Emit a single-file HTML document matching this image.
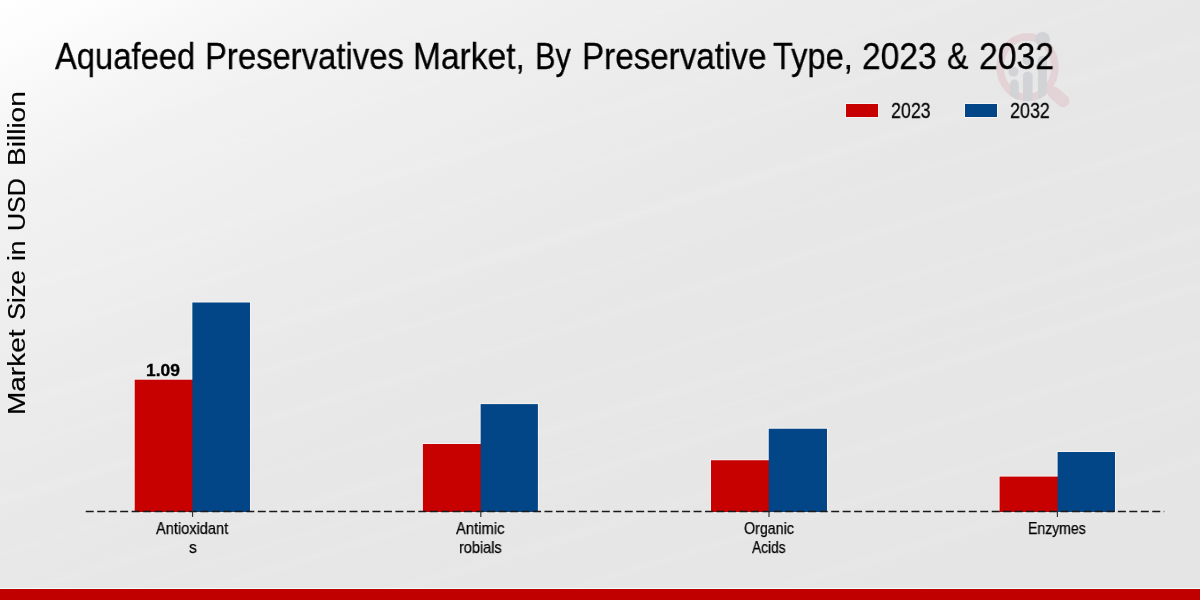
<!DOCTYPE html>
<html lang="en">
<head>
<meta charset="utf-8">
<title>Aquafeed Preservatives Market, By Preservative Type, 2023 &amp; 2032</title>
<style>
  html, body { margin: 0; padding: 0; }
  body {
    width: 1200px; height: 600px; overflow: hidden;
    font-family: "Liberation Sans", sans-serif;
    color: #000;
    background: #e8e8e8;
  }
  #chart {
    position: relative; width: 1200px; height: 600px; overflow: hidden;
    background:
      linear-gradient(163deg, rgba(255,255,255,0) 140px, rgba(255,255,255,0.05) 150px, rgba(255,255,255,0) 160px, rgba(255,255,255,0) 199px, rgba(255,255,255,0.05) 205px, rgba(255,255,255,0) 211px, rgba(255,255,255,0) 273px, rgba(255,255,255,0.07) 282px, rgba(255,255,255,0) 291px, rgba(255,255,255,0) 323px, rgba(255,255,255,0.06) 329px, rgba(255,255,255,0) 335px, rgba(255,255,255,0) 381px, rgba(255,255,255,0.09) 391px, rgba(255,255,255,0) 401px, rgba(255,255,255,0) 427px, rgba(255,255,255,0.06) 432px, rgba(255,255,255,0) 437px, rgba(255,255,255,0) 471px, rgba(255,255,255,0.08) 479px, rgba(255,255,255,0) 487px, rgba(255,255,255,0) 524px, rgba(255,255,255,0.05) 530px, rgba(255,255,255,0) 536px, rgba(255,255,255,0) 563px, rgba(255,255,255,0.08) 572px, rgba(255,255,255,0) 581px, rgba(255,255,255,0) 596px, rgba(255,255,255,0.05) 600px, rgba(255,255,255,0) 604px, rgba(255,255,255,0) 617px, rgba(255,255,255,0.08) 624px, rgba(255,255,255,0) 631px, rgba(255,255,255,0) 672px, rgba(255,255,255,0.06) 680px, rgba(255,255,255,0) 688px, rgba(255,255,255,0) 724px, rgba(255,255,255,0.06) 730px, rgba(255,255,255,0) 736px, rgba(255,255,255,0) 781px, rgba(255,255,255,0.05) 790px, rgba(255,255,255,0) 799px),
      linear-gradient(to bottom right, #ffffff 0%, #fbfbfb 5.7%, #f7f7f7 9.8%, #f1f1f1 17.7%, #eeeeee 27%, #ebebeb 34.3%, #e9e9e9 41.7%, #e7e7e7 50%, #e6e6e6 73%, #e5e5e5 100%);
  }
  .t { position: absolute; white-space: nowrap; line-height: 1; transform-origin: 0 0; will-change: transform; }
  .tw { font-size: 36.9px; -webkit-text-stroke: 0.3px #000; }
  .yl { font-size: 23.5px; -webkit-text-stroke: 0.2px #000; }
  .sw { box-shadow: 0 0 0 1px rgba(255,250,248,0.6); }
  .red { background: #c70000; }
  .blue { background: #024687; }
  #plot { position: absolute; left: 0; top: 290px; }
  .rf { fill: #c70000; }
  .bf { fill: #024687; }
  .xl { font-size: 16.1px; -webkit-text-stroke: 0.25px #000; }
  .val { font-size: 15.2px; font-weight: bold; -webkit-text-stroke: 0.3px #000; }
  .lg { font-size: 20.6px; -webkit-text-stroke: 0.25px #000; }
  .sw { position: absolute; top: 104px; width: 32px; height: 13px; }
  #footer { position: absolute; left: 0; top: 589px; width: 1200px; height: 11px; background: #c00000; }
  #footline { position: absolute; left: 0; top: 588px; width: 1200px; height: 1px; background: #f2fdfd; }
</style>
</head>
<body>
<div id="chart">
  <svg id="wm" width="100" height="90" viewBox="0 0 100 90" style="position:absolute;left:985px;top:25px">
    <defs><clipPath id="wmclip"><ellipse cx="42.5" cy="42.2" rx="31.2" ry="34.1"/><rect x="0" y="0" width="100" height="42"/></clipPath></defs>
    <g fill="none" stroke="#e4d3d6" stroke-linecap="round">
      <ellipse cx="42.5" cy="42.2" rx="27.4" ry="30.3" stroke-width="7.6"/>
      <line x1="68.8" y1="67.8" x2="78.2" y2="76" stroke-width="12.5"/>
    </g>
    <g fill="#d2d3d6" stroke="none" clip-path="url(#wmclip)">
      <path d="M25 85 V59 a4.4 4.4 0 0 1 8.8 0 V85 Z"/>
      <circle cx="28.4" cy="46.8" r="5"/>
      <path d="M38 85 V51.2 a4.8 4.8 0 0 1 9.6 0 V85 Z"/>
      <circle cx="42.5" cy="35" r="5"/>
      <path d="M52.9 85 V35.3 a4.5 4.5 0 0 1 9 0 V85 Z"/>
      <circle cx="57.6" cy="14.3" r="7.4"/>
    </g>
  </svg>

  <div class="t tw" style="left:54.7px;top:38.8px;transform:scaleX(0.887)">Aquafeed</div>
  <div class="t tw" style="left:204.9px;top:38.8px;transform:scaleX(0.890)">Preservatives</div>
  <div class="t tw" style="left:413.3px;top:38.8px;transform:scaleX(0.909)">Market,</div>
  <div class="t tw" style="left:534.5px;top:38.8px;transform:scaleX(0.835)">By</div>
  <div class="t tw" style="left:581.7px;top:38.8px;transform:scaleX(0.900)">Preservative</div>
  <div class="t tw" style="left:772.7px;top:38.8px;transform:scaleX(0.884)">Type,</div>
  <div class="t tw" style="left:862.2px;top:38.8px;transform:scaleX(0.910)">2023</div>
  <div class="t tw" style="left:947.1px;top:38.8px;transform:scaleX(0.870)">&amp;</div>
  <div class="t tw" style="left:978.8px;top:38.8px;transform:scaleX(0.915)">2032</div>
  <div class="t yl" style="left:6px;top:415.1px;transform:rotate(-90deg) scaleX(1.190)">Market</div>
  <div class="t yl" style="left:6px;top:319.7px;transform:rotate(-90deg) scaleX(1.091)">Size</div>
  <div class="t yl" style="left:6px;top:260.6px;transform:rotate(-90deg) scaleX(1.120)">in</div>
  <div class="t yl" style="left:6px;top:231.1px;transform:rotate(-90deg) scaleX(1.064)">USD</div>
  <div class="t yl" style="left:6px;top:165.8px;transform:rotate(-90deg) scaleX(1.193)">Billion</div>

  <div class="sw red" style="left:845.7px"></div>
  <div class="sw blue" style="left:964.8px"></div>
  <div class="t lg" style="left:890.8px;top:100.0px;transform:scale(0.866,1.04)">2023</div>
  <div class="t lg" style="left:1009.8px;top:100.0px;transform:scale(0.870,1.04)">2032</div>

  <svg id="plot" width="1200" height="260" viewBox="0 290 1200 260"><g fill="rgba(255,250,248,0.6)"><rect x="133.70" y="378.70" width="59.65" height="133.30"/><rect x="191.35" y="301.50" width="59.65" height="210.50"/><rect x="421.90" y="443.00" width="59.75" height="69.00"/><rect x="479.65" y="403.10" width="59.25" height="108.90"/><rect x="710.00" y="459.25" width="59.75" height="52.75"/><rect x="767.75" y="427.75" width="60.25" height="84.25"/><rect x="998.60" y="475.60" width="60.00" height="36.40"/><rect x="1056.60" y="451.00" width="59.40" height="61.00"/></g><rect class="rf" x="134.70" y="379.70" width="58.35" height="132.30"/><rect class="bf" x="192.35" y="302.50" width="57.65" height="209.50"/><rect class="rf" x="422.90" y="444.00" width="58.45" height="68.00"/><rect class="bf" x="480.65" y="404.10" width="57.25" height="107.90"/><rect class="rf" x="711.00" y="460.25" width="58.45" height="51.75"/><rect class="bf" x="768.75" y="428.75" width="58.25" height="83.25"/><rect class="rf" x="999.60" y="476.60" width="58.70" height="35.40"/><rect class="bf" x="1057.60" y="452.00" width="57.40" height="60.00"/><line x1="85.75" y1="511.5" x2="1164.3" y2="511.5" stroke="#1a1a1a" stroke-width="1.35" stroke-dasharray="8.006 3.462"/><line x1="192.55" y1="511.5" x2="192.55" y2="516.9" stroke="#383838" stroke-width="1.2"/><line x1="480.8" y1="511.5" x2="480.8" y2="516.9" stroke="#383838" stroke-width="1.2"/><line x1="769.0" y1="511.5" x2="769.0" y2="516.9" stroke="#383838" stroke-width="1.2"/><line x1="1057.4" y1="511.5" x2="1057.4" y2="516.9" stroke="#383838" stroke-width="1.2"/></svg>

  <div class="t val" style="left:146.3px;top:361.9px;transform:scale(1.146,1.04)">1.09</div>

  <div class="t xl" style="left:155.8px;top:519.8px;transform:scaleX(0.906)">Antioxidant</div>
  <div class="t xl" style="left:189.4px;top:538.5px;transform:scaleX(0.967)">s</div>
  <div class="t xl" style="left:456.2px;top:519.8px;transform:scaleX(0.918)">Antimic</div>
  <div class="t xl" style="left:458.8px;top:538.5px;transform:scaleX(0.902)">robials</div>
  <div class="t xl" style="left:743.9px;top:519.8px;transform:scaleX(0.886)">Organic</div>
  <div class="t xl" style="left:752.2px;top:538.5px;transform:scaleX(0.855)">Acids</div>
  <div class="t xl" style="left:1028.1px;top:519.8px;transform:scaleX(0.871)">Enzymes</div>

  <div id="footline"></div>
  <div id="footer"></div>
</div>
</body>
</html>
